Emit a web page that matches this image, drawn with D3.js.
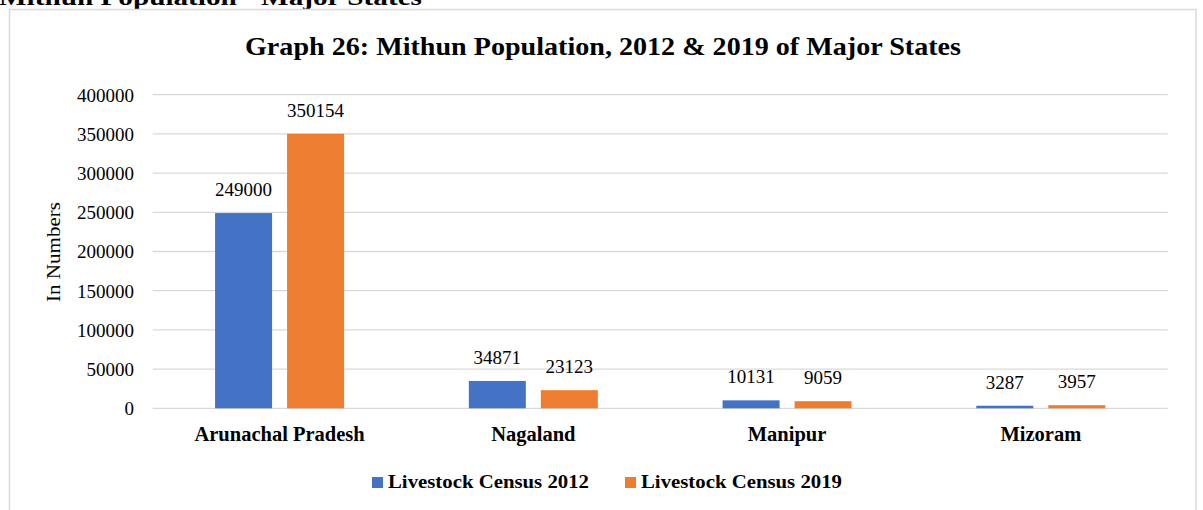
<!DOCTYPE html>
<html>
<head>
<meta charset="utf-8">
<script src="https://cdn.jsdelivr.net/npm/d3@7"></script>
<style>
  html, body { margin: 0; padding: 0; background: #fff; }
  svg { display: block; }
  text { font-family: "Liberation Serif", "DejaVu Serif", serif; fill: #000; }
</style>
</head>
<body>
<svg id="chart" width="1203" height="510"></svg>
<script>
const categories = ["Arunachal Pradesh", "Nagaland", "Manipur", "Mizoram"];
const seriesNames = ["Livestock Census 2012", "Livestock Census 2019"];
const census2012 = [249000, 34871, 10131, 3287];
const census2019 = [350154, 23123, 9059, 3957];
const yTicks = [0, 50000, 100000, 150000, 200000, 250000, 300000, 350000, 400000];
const colors = ["#4472C4", "#ED7D31"];
const pageHeading = "Mithun Population - Major States";
const chartTitle = "Graph 26: Mithun Population, 2012 & 2019 of Major States";
const yAxisTitle = "In Numbers";

const seriesValues = [census2012, census2019];
const svg = d3.select("#chart");

// page heading, cropped at the top (as in the reference)
svg.append("text")
  .attr("x", -1).attr("y", 5)
  .attr("font-size", 24).attr("font-weight", "bold")
  .attr("textLength", 423).attr("lengthAdjust", "spacingAndGlyphs")
  .text(pageHeading);

// chart frame
svg.append("rect")
  .attr("x", 9.5).attr("y", 9.5)
  .attr("width", 1186.5).attr("height", 520)
  .attr("fill", "#fff").attr("stroke", "#d9d9d9").attr("stroke-width", 1.5);

const plotLeft = 152.7, plotRight = 1167.7, plotTop = 94.7, plotBottom = 408.3;

const y = d3.scaleLinear().domain([0, 400000]).range([plotBottom, plotTop]);
const pIn = (253.75 - 129) / 253.75;
const x0 = d3.scaleBand().domain(categories).range([plotLeft, plotRight])
  .paddingInner(pIn).paddingOuter(pIn / 2);
const x1 = d3.scaleBand().domain(seriesNames).range([0, x0.bandwidth()])
  .paddingInner(15 / 72).paddingOuter(0);

// title
svg.append("text")
  .attr("x", 603).attr("y", 55)
  .attr("text-anchor", "middle")
  .attr("font-size", 25).attr("font-weight", "bold")
  .attr("textLength", 716).attr("lengthAdjust", "spacingAndGlyphs")
  .text(chartTitle);

// gridlines
svg.append("g").selectAll("line").data(yTicks).join("line")
  .attr("x1", plotLeft).attr("x2", plotRight)
  .attr("y1", d => y(d)).attr("y2", d => y(d))
  .attr("stroke", "#d9d9d9").attr("stroke-width", 1.3);

// y labels via axis
const yAxis = d3.axisLeft(y).tickValues(yTicks).tickFormat(d3.format("d")).tickSize(0).tickPadding(0);
const gy = svg.append("g").attr("transform", `translate(134,0)`).call(yAxis);
gy.select(".domain").remove();
gy.selectAll("text")
  .attr("font-family", "Liberation Serif")
  .attr("font-size", 19)
  .attr("fill", "#000")
  .attr("dy", "0.34em");

// y axis title
svg.append("text")
  .attr("transform", `translate(60,252) rotate(-90)`)
  .attr("text-anchor", "middle")
  .attr("font-size", 18.5)
  .attr("textLength", 100).attr("lengthAdjust", "spacingAndGlyphs")
  .text(yAxisTitle);

// bars
const groups = svg.append("g").selectAll("g").data(categories).join("g")
  .attr("transform", d => `translate(${x0(d)},0)`);

groups.selectAll("rect")
  .data((c, i) => seriesNames.map((s, j) => ({ s, j, v: seriesValues[j][i] })))
  .join("rect")
  .attr("x", d => x1(d.s))
  .attr("width", x1.bandwidth())
  .attr("y", d => y(d.v))
  .attr("height", d => plotBottom - y(d.v))
  .attr("fill", d => colors[d.j]);

groups.selectAll("text.val")
  .data((c, i) => seriesNames.map((s, j) => ({ s, j, v: seriesValues[j][i] })))
  .join("text")
  .attr("class", "val")
  .attr("x", d => x1(d.s) + x1.bandwidth() / 2)
  .attr("y", d => y(d.v) - 17)
  .attr("text-anchor", "middle")
  .attr("font-size", 19)
  .text(d => d.v);

// category labels
svg.append("g").selectAll("text").data(categories).join("text")
  .attr("x", d => x0(d) + x0.bandwidth() / 2)
  .attr("y", 441)
  .attr("text-anchor", "middle")
  .attr("font-size", 20.5).attr("font-weight", "bold")
  .text(d => d);

// legend
const legendItems = [{ x: 372, tx: 388, w: 201 }, { x: 625, tx: 641, w: 201 }];
const lg = svg.append("g").selectAll("g").data(seriesNames).join("g");
lg.append("rect")
  .attr("x", (d, i) => legendItems[i].x).attr("y", 477)
  .attr("width", 11).attr("height", 11)
  .attr("fill", (d, i) => colors[i]);
lg.append("text")
  .attr("x", (d, i) => legendItems[i].tx).attr("y", 488)
  .attr("font-size", 18.5).attr("font-weight", "bold")
  .attr("textLength", (d, i) => legendItems[i].w).attr("lengthAdjust", "spacingAndGlyphs")
  .text(d => d);
</script>
</body>
</html>
